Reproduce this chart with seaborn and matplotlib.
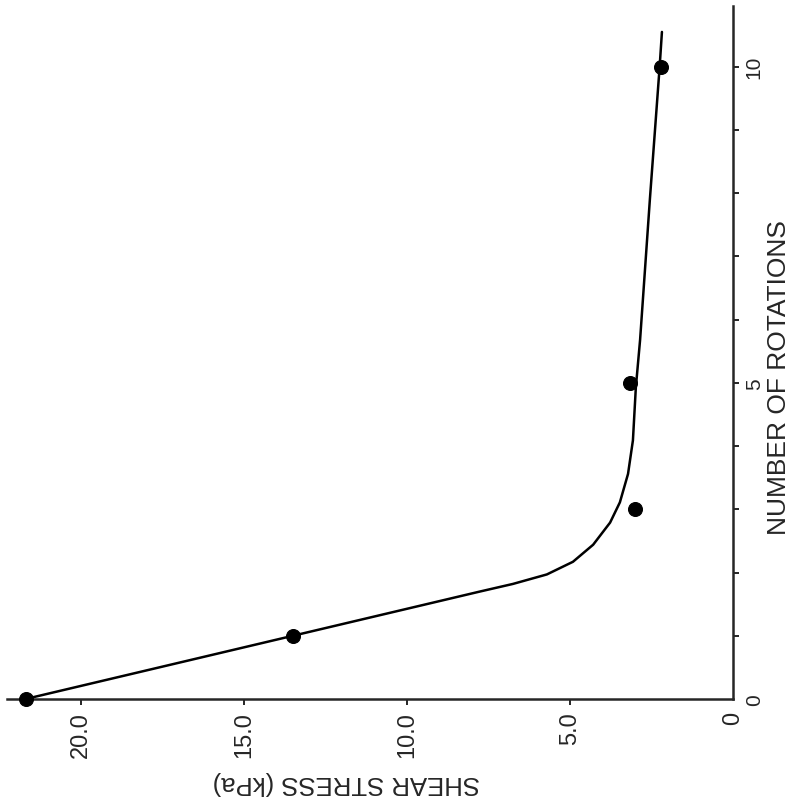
import matplotlib
matplotlib.use("Agg")
import matplotlib.pyplot as plt
import seaborn as sns
import pandas as pd

# measured points: number of rotations vs shear stress (kPa)
rot_pts = [0, 1, 3, 5, 10]
stress_pts = [21.7, 13.5, 3.0, 3.15, 2.2]

# drawn fit curve
curve_rot = [0, 1, 1.70, 1.82, 1.97, 2.17, 2.44, 2.79, 3.11, 3.56, 4.09, 4.93, 5.68, 7.9, 10, 10.55]
curve_stress = [21.7, 13.5, 7.76, 6.75, 5.71, 4.91, 4.29, 3.77, 3.47, 3.22, 3.07, 2.98, 2.85, 2.55, 2.25, 2.18]

stress_ticks = [0, 5, 10, 15, 20]
stress_labels = ["0", "5.0", "10.0", "15.0", "20.0"]
rot_ticks = list(range(0, 11))
rot_labels = ["0", "", "", "", "", "5", "", "", "", "", "10"]

sns.set_style("ticks")
plt.rcParams['font.family'] = ['Liberation Sans', 'DejaVu Sans']

pts = pd.DataFrame({'rot': rot_pts, 'stress': stress_pts})
fit = pd.DataFrame({'rot': curve_rot, 'stress': curve_stress})

fig = plt.figure(figsize=(7.96, 8.04), dpi=100)
# the page is turned: stress runs right-to-left, rotations bottom-to-top
ax = fig.add_axes([7/796, 1 - 700/804, 726/796, 693/804])

sns.lineplot(data=fit, x='stress', y='rot', sort=False, color='black', linewidth=1.8, ax=ax)
sns.scatterplot(data=pts, x='stress', y='rot', color='black', s=100, edgecolor='black', zorder=5, ax=ax, clip_on=False)

ax.set_xlim(22.27, 0)
ax.set_ylim(0, 10.96)

#spines: keep bottom and right only
ax.spines['top'].set_visible(False)
ax.spines['left'].set_visible(False)
ax.spines['bottom'].set_linewidth(1.8)
ax.spines['right'].set_linewidth(1.8)

ax.yaxis.tick_right()
ax.yaxis.set_label_position('right')

ax.set_xticks(stress_ticks)
ax.set_xticklabels(stress_labels, rotation=90, fontsize=17)
ax.set_yticks(rot_ticks)
ax.set_yticklabels(rot_labels, rotation=90, fontsize=15, va='center')
ax.tick_params(axis='both', direction='out', length=4.5, width=1.4, pad=4)

# no tick marks at the corner
ax.xaxis.get_major_ticks()[0].tick1line.set_visible(False)
ax.yaxis.get_major_ticks()[0].tick2line.set_visible(False)

ax.set_xlabel("SHEAR STRESS (kPa)", fontsize=18.5, rotation=180)
ax.xaxis.set_label_coords(0.468, -0.103)
ax.set_ylabel("NUMBER OF ROTATIONS", fontsize=19)
ax.yaxis.set_label_coords(1.047, 0.465)

fig.savefig("out.png", dpi=100)
